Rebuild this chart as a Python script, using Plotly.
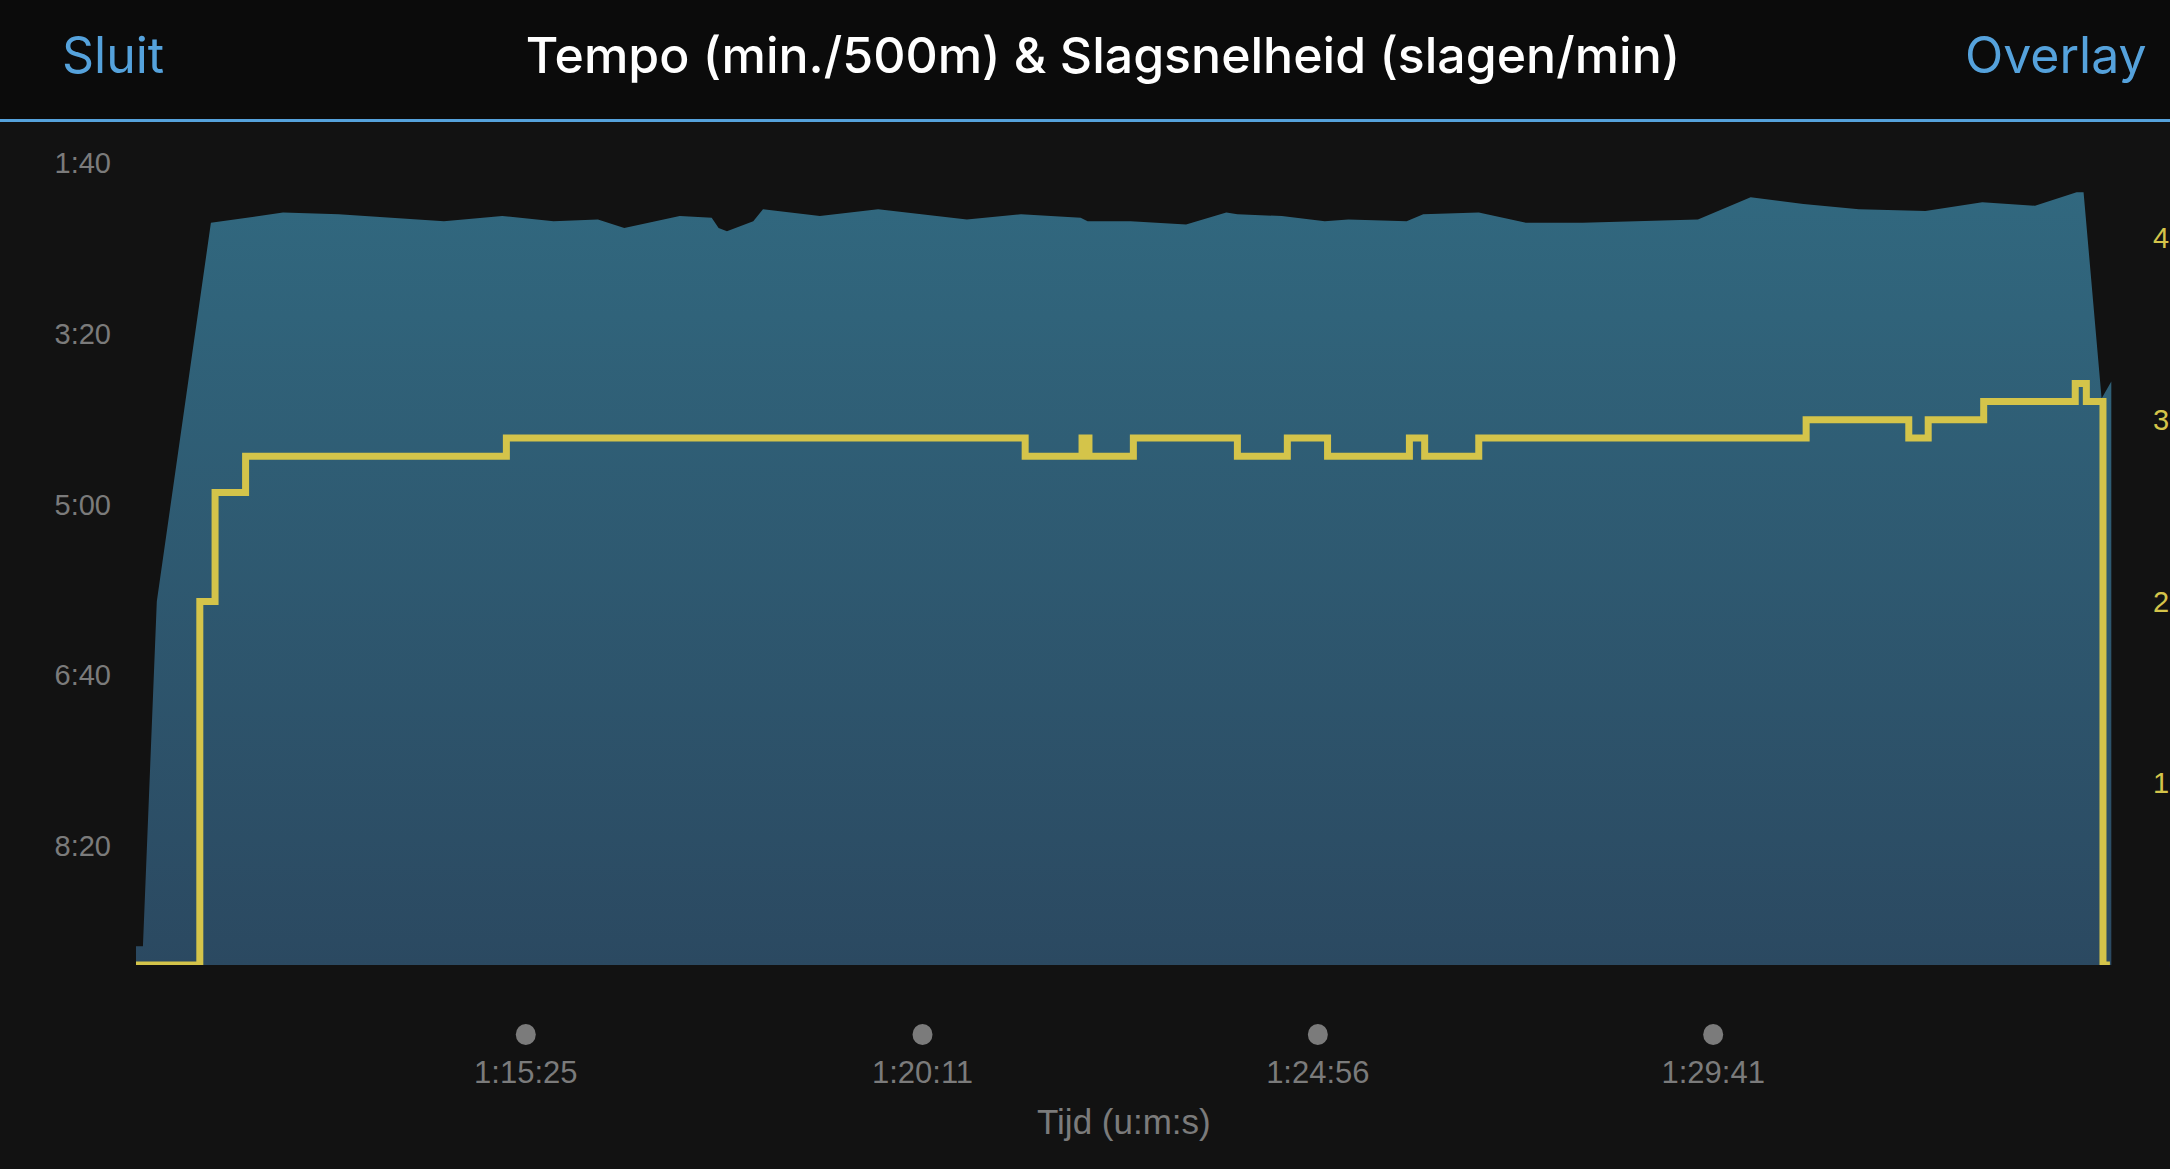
import plotly.graph_objects as go

# ---- data ----
# pace (seconds per 500 m) over elapsed time (seconds)
pace_times = [4244, 4249, 4259, 4298, 4350, 4390, 4466, 4508, 4545, 4577, 4596,
              4636, 4659, 4664, 4670, 4689, 4696, 4737, 4779, 4843, 4882, 4925,
              4930, 4961, 5001, 5030, 5038, 5070, 5101, 5118, 5160, 5172, 5212,
              5246, 5287, 5370, 5408, 5446, 5486, 5534, 5575, 5613, 5643, 5648,
              5661, 5668]
pace_secs = [559, 559, 357, 135, 129, 130, 134, 131, 134, 133, 138,
             131, 132, 138, 140, 134, 127, 131, 127, 133, 130, 132,
             134, 134, 136, 129, 130, 131, 134, 133, 134, 130, 129,
             135, 135, 133, 120, 124, 127, 128, 123, 125, 117, 117,
             238, 228]

# stroke rate (strokes/min), step changes
stroke_times = [4244, 4290, 4301, 4323, 4511, 4885, 4926, 4931, 4963, 5038, 5074,
                5103, 5162, 5173, 5212, 5448, 5522, 5536, 5576, 5642, 5650, 5662,
                5667]
stroke_rates = [0, 20, 26, 28, 29, 28, 29, 28, 29, 28, 29,
                28, 29, 28, 29, 30, 29, 30, 31, 32, 31, 0,
                0]

pace_tick_vals = [100, 200, 300, 400, 500]
pace_tick_text = ["1:40", "3:20", "5:00", "6:40", "8:20"]
rate_tick_vals = [0, 10, 20, 30, 40]
rate_tick_text = ["\u20070", "10", "20", "30", "40"]
time_tick_vals = [4525, 4811, 5096, 5381]
time_tick_text = ["1:15:25", "1:20:11", "1:24:56", "1:29:41"]

title_text = "Tempo (min./500m) & Slagsnelheid (slagen/min)"
left_button = "Sluit"
right_button = "Overlay"
x_title = "Tijd (u:m:s)"

# ---- axis ranges / styles ----
PACE_RANGE = [570, 80]
RATE_RANGE = [0, 46]
TIME_RANGE = [4244, 5668.5]

BG = "#121212"
HEADER_BG = "#0b0b0b"
BLUE = "#55a2dc"
YELLOW = "#d4c44a"
GRAY = "#7b7b7b"
AXFONT = "Liberation Sans, Arial, sans-serif"
HEADFONT = "Inter, Roboto, sans-serif"

fig = go.Figure()

# baseline for the area fill (bottom of pace axis)
fig.add_trace(go.Scatter(
    x=[pace_times[0], pace_times[-1]], y=[PACE_RANGE[0], PACE_RANGE[0]],
    mode="lines", line=dict(width=0), hoverinfo="skip", showlegend=False))

fig.add_trace(go.Scatter(
    x=pace_times, y=pace_secs, mode="lines", line=dict(width=0),
    fill="tonexty",
    fillgradient=dict(type="vertical",
                      colorscale=[[0, "#31687f"], [1, "#2b4961"]],
                      start=115, stop=570),
    hoverinfo="skip", showlegend=False))

fig.add_trace(go.Scatter(
    x=stroke_times, y=stroke_rates, yaxis="y2", mode="lines",
    line=dict(color=YELLOW, width=7, shape="hv"),
    cliponaxis=False, hoverinfo="skip", showlegend=False))

shapes = [
    dict(type="rect", xref="paper", x0=-0.1, x1=1.1,
         yref="paper", ysizemode="pixel", yanchor=1, y0=10, y1=140,
         fillcolor=HEADER_BG, line=dict(width=0)),
    dict(type="line", xref="paper", x0=-0.1, x1=1.1,
         yref="paper", ysizemode="pixel", yanchor=1, y0=8.5, y1=8.5,
         line=dict(color=BLUE, width=3)),
]
for t in time_tick_vals:
    shapes.append(dict(type="circle", xref="x", xsizemode="pixel", xanchor=t,
                       x0=-10, x1=10, yref="paper", ysizemode="pixel", yanchor=0,
                       y0=-80, y1=-59, fillcolor=GRAY, line=dict(width=0)))

fig.update_layout(
    width=2170, height=1169,
    paper_bgcolor=BG, plot_bgcolor=BG,
    margin=dict(l=136, r=58, t=129, b=204, pad=0),
    showlegend=False,
    hovermode=False,
    title=dict(text=title_text, x=1103 / 2170, xref="container", xanchor="center",
               y=1 - 55 / 1169, yref="container", yanchor="middle",
               font=dict(family=HEADFONT, size=50, color="white", weight=500)),
    xaxis=dict(range=TIME_RANGE, tickmode="array", tickvals=time_tick_vals,
               ticktext=time_tick_text, showgrid=False, zeroline=False,
               showline=False, ticks="", automargin=False,
               ticklabelstandoff=86,
               tickfont=dict(family=AXFONT, size=31, color=GRAY)),
    yaxis=dict(range=PACE_RANGE, tickmode="array", tickvals=pace_tick_vals,
               ticktext=pace_tick_text, showgrid=False, zeroline=False,
               showline=False, ticks="", automargin=False,
               ticklabelstandoff=24,
               tickfont=dict(family=AXFONT, size=29, color=GRAY)),
    yaxis2=dict(range=RATE_RANGE, overlaying="y", side="right",
                tickmode="array", tickvals=rate_tick_vals, ticktext=rate_tick_text,
                showgrid=False, zeroline=False, showline=False, ticks="",
                automargin=False, ticklabelstandoff=40,
                tickfont=dict(family=AXFONT, size=29, color=YELLOW)),
    shapes=shapes,
    annotations=[
        dict(text=left_button, xref="paper", x=0, xshift=-76, xanchor="left",
             yref="paper", y=1, yshift=74, yanchor="middle", showarrow=False,
             font=dict(family=HEADFONT, size=50, color=BLUE)),
        dict(text=right_button, xref="paper", x=1, xshift=37, xanchor="right",
             yref="paper", y=1, yshift=74, yanchor="middle", showarrow=False,
             font=dict(family=HEADFONT, size=50, color=BLUE)),
        dict(text=x_title, xref="paper", x=0.5, xanchor="center",
             yref="paper", y=0, yshift=-156, yanchor="middle", showarrow=False,
             font=dict(family=AXFONT, size=35, color=GRAY)),
    ],
)

fig.write_html("out.html", config={"displayModeBar": False},
               post_script="document.body.style.margin='0';document.body.style.overflow='hidden';")
